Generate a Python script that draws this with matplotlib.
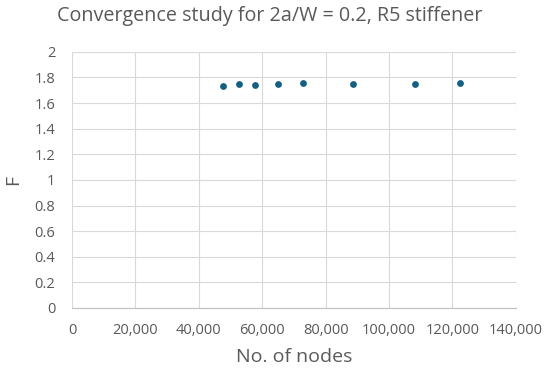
import matplotlib.pyplot as plt
from matplotlib.ticker import FuncFormatter, MultipleLocator

nodes = [47700, 52600, 57800, 65000, 72900, 88600, 108200, 122300]
F = [1.737, 1.750, 1.742, 1.748, 1.755, 1.748, 1.748, 1.755]

plt.rcParams['font.family'] = ['Open Sans', 'DejaVu Sans']
grey = '#595959'

fig = plt.figure(figsize=(5.5, 3.76), dpi=100)
ax = fig.add_axes([0.131, 0.181, 0.807, 0.681])
ax.scatter(nodes, F, s=24, color='#156082', zorder=3, linewidths=0)

ax.set_xlim(0, 140000)
ax.set_ylim(0, 2)
ax.xaxis.set_major_locator(MultipleLocator(20000))
ax.yaxis.set_major_locator(MultipleLocator(0.2))
ax.xaxis.set_major_formatter(FuncFormatter(lambda v, p: f"{int(v):,}"))
ax.yaxis.set_major_formatter(FuncFormatter(lambda v, p: f"{v:g}"))
ax.grid(True, color='#d9d9d9', linewidth=0.8)
for s in ['top', 'right', 'left']:
    ax.spines[s].set_visible(False)
ax.spines['bottom'].set_color('#bfbfbf')
ax.tick_params(length=0, labelsize=10.5, colors=grey)
ax.tick_params(axis='x', pad=11)
ax.tick_params(axis='y', pad=12)

ax.set_xlabel('No. of nodes', fontsize=14, color=grey, labelpad=7)
ax.set_ylabel('F', fontsize=14, color=grey)
ax.yaxis.set_label_coords(-0.112, 0.5)
fig.suptitle('Convergence study for 2a/W = 0.2, R5 stiffener', fontsize=14.2, color=grey, x=0.49, y=0.985)

fig.savefig('out.png', dpi=100)
